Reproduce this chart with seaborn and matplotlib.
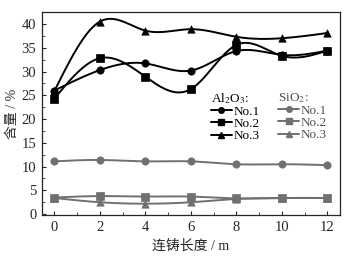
import numpy as np
import pandas as pd
import matplotlib
matplotlib.use("Agg")
import matplotlib.pyplot as plt
from matplotlib.lines import Line2D
from matplotlib.legend import Legend
import seaborn as sns

# casting length (m)
length = [0, 2, 4, 6, 8, 10, 12]

# Al2O3 content (%)
al_no1 = [26.0, 30.3, 31.7, 30.2, 34.3, 33.5, 34.4]
al_no2 = [24.3, 32.8, 28.9, 26.3, 35.6, 33.3, 34.4]
al_no3 = [25.9, 40.5, 38.6, 38.9, 37.3, 37.0, 38.1]

# SiO2 content (%)
si_no1 = [11.1, 11.4, 11.1, 11.1, 10.5, 10.5, 10.3]
si_no2 = [3.5, 3.8, 3.7, 3.7, 3.3, 3.4, 3.4]
si_no3 = [3.4, 2.5, 2.2, 2.5, 3.2, 3.4, 3.4]

sample_names = ["No.1", "No.2", "No.3"]
markers = ["o", "s", "^"]


def smooth_curve(x, y, n=200):
    # natural cubic spline through the points, only used to draw the line
    x = np.asarray(x, float)
    y = np.asarray(y, float)
    k = len(x)
    h = np.diff(x)
    A = np.zeros((k, k))
    b = np.zeros(k)
    A[0, 0] = 1
    A[-1, -1] = 1
    for i in range(1, k - 1):
        A[i, i - 1] = h[i - 1]
        A[i, i] = 2 * (h[i - 1] + h[i])
        A[i, i + 1] = h[i]
        b[i] = 3 * ((y[i + 1] - y[i]) / h[i] - (y[i] - y[i - 1]) / h[i - 1])
    c = np.linalg.solve(A, b)
    xs = np.linspace(x[0], x[-1], n)
    ys = np.empty_like(xs)
    for j, xv in enumerate(xs):
        i = min(np.searchsorted(x, xv, side="right") - 1, k - 2)
        dx = xv - x[i]
        bi = (y[i + 1] - y[i]) / h[i] - h[i] * (2 * c[i] + c[i + 1]) / 3
        di = (c[i + 1] - c[i]) / (3 * h[i])
        ys[j] = y[i] + bi * dx + c[i] * dx ** 2 + di * dx ** 3
    return xs, ys


sns.set_style("ticks")
plt.rcParams["font.family"] = ["Liberation Serif", "Noto Sans CJK SC"]
plt.rcParams["mathtext.fontset"] = "stix"
plt.rcParams["xtick.direction"] = "in"
plt.rcParams["ytick.direction"] = "in"

fig = plt.figure(figsize=(3.49, 2.57), dpi=100)
ax = fig.add_axes([0.12, 0.163, 0.854, 0.79])

al_color = "black"
si_color = "#707070"

groups = [
    (al_color, [al_no1, al_no2, al_no3]),
    (si_color, [si_no1, si_no2, si_no3]),
]

for color, series in groups:
    for vals, mk in zip(series, markers):
        xs, ys = smooth_curve(length, vals)
        sns.lineplot(x=xs, y=ys, ax=ax, color=color, lw=1.4, sort=False)
        sns.scatterplot(x=length, y=vals, ax=ax, color=color, marker=mk,
                        s=28, edgecolor=color, linewidth=0.5, zorder=3)

ax.set_xlim(-0.55, 12.55)
ax.set_ylim(-0.2, 42.5)
ax.set_xticks(range(0, 13, 2))
ax.set_xticks(range(0, 13, 1), minor=True)
ax.set_yticks(range(0, 41, 5))
ax.set_yticks(np.arange(0, 42.5, 2.5), minor=True)
ax.tick_params(labelsize=10.5, length=3, width=0.8, pad=4, top=False, right=False)
ax.tick_params(which="minor", length=2, width=0.6)
for sp in ax.spines.values():
    sp.set_linewidth(0.9)
    sp.set_visible(True)

ax.set_xlabel("连铸长度 / m", fontsize=10, labelpad=4)
ax.set_ylabel("含量 / %", fontsize=10, labelpad=2)

legend_groups = [
    ("Al$_2$O$_3$:", al_color, "black", 0.545),
    ("SiO$_2$:", si_color, "#505050", 0.77),
]
for title, color, tcolor, xpos in legend_groups:
    handles = [Line2D([], [], color=color, marker=mk, markersize=4, lw=1.4)
               for mk in markers]
    leg = Legend(ax, handles, sample_names, frameon=False, fontsize=9.5,
                 title=title, title_fontsize=9.5, alignment="left",
                 loc="upper left", bbox_to_anchor=(xpos, 0.645),
                 handlelength=1.6, handletextpad=0.1,
                 labelspacing=0.0, borderpad=0.0)
    leg.get_title().set_color(tcolor)
    for t in leg.get_texts():
        t.set_color(tcolor)
    ax.add_artist(leg)

fig.savefig("out.png", dpi=100)
